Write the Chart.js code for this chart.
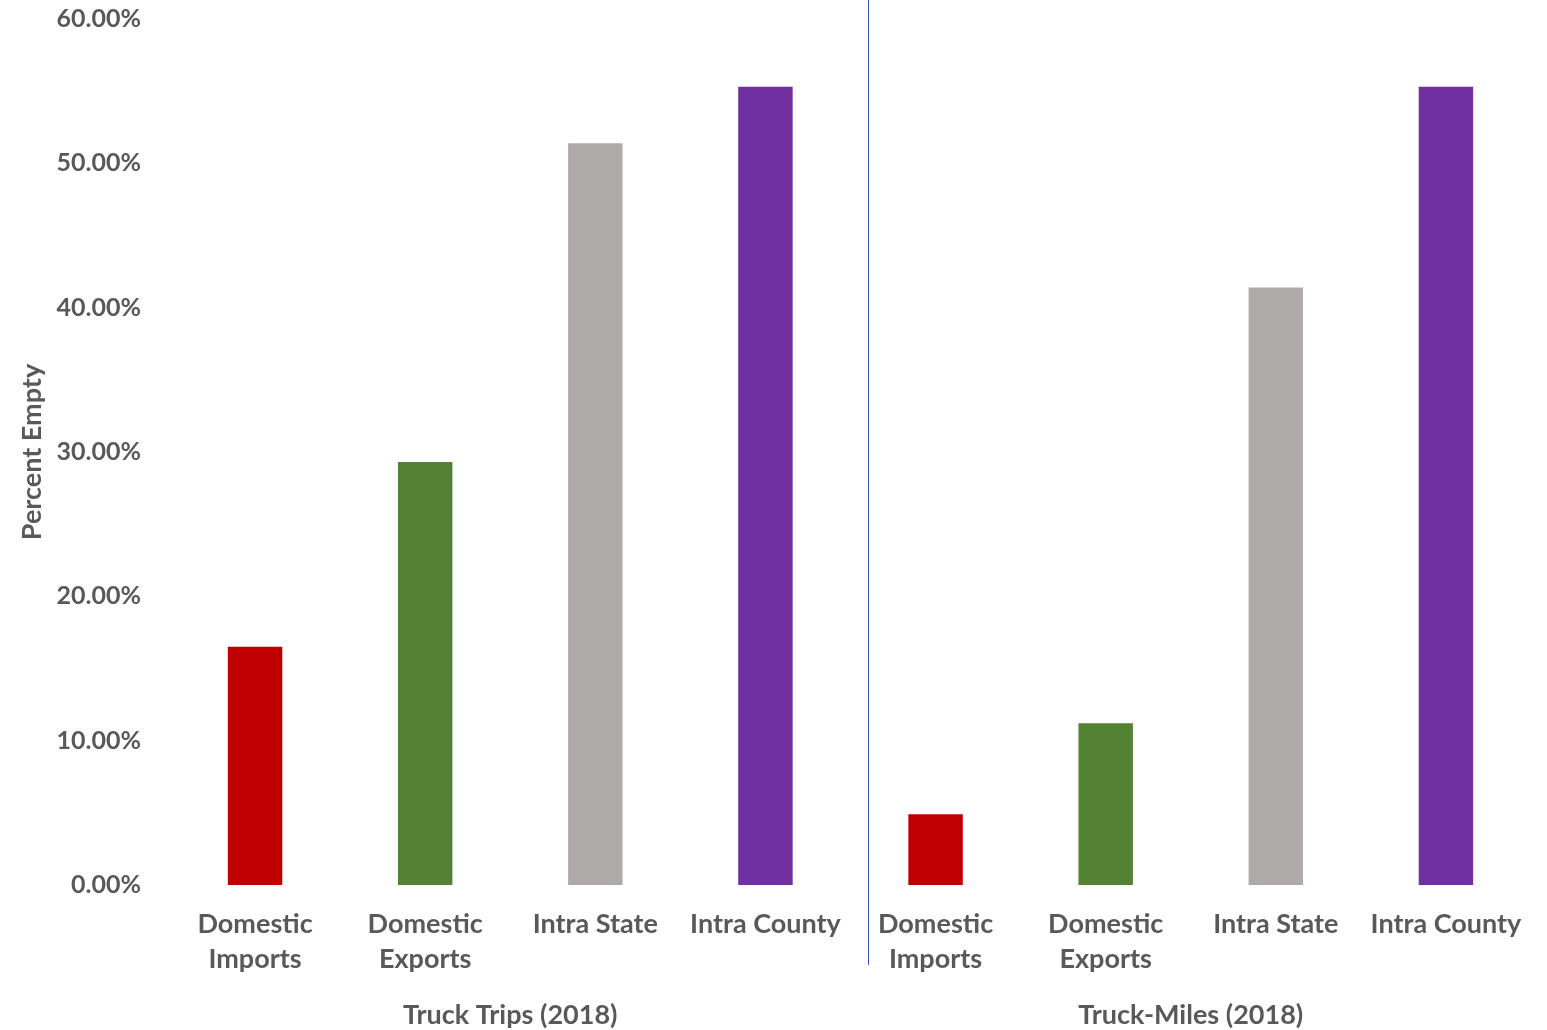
<!DOCTYPE html>
<html lang="en">
<head>
    <meta charset="UTF-8">
    <title>Percent Empty Trucks (2018)</title>
    <script src="https://cdn.jsdelivr.net/npm/chart.js"></script>
    <style>
        body {
            margin: 0;
            background: white;
        }
        #wrap {
            width: 1547px;
            height: 1030px;
        }
    </style>
</head>
<body>
    <div id="wrap"><canvas id="emptyChart"></canvas></div>

    <script>
        // categories for each bar, two groups of four
        const categories = [
            ["Domestic", "Imports"], ["Domestic", "Exports"], "Intra State", "Intra County",
            ["Domestic", "Imports"], ["Domestic", "Exports"], "Intra State", "Intra County"
        ];
        const groups = ["Truck Trips (2018)", "Truck-Miles (2018)"];
        // percent empty
        const percentEmpty = [16.5, 29.3, 51.4, 55.3, 4.9, 11.2, 41.4, 55.3];
        const barColors = ["#C00000", "#548235", "#AEAAAA", "#7030A0",
                           "#C00000", "#548235", "#AEAAAA", "#7030A0"];
        const yTicks = [0, 10, 20, 30, 40, 50, 60];

        const textColor = "#595959";
        const fontFamily = "Lato, 'Open Sans', sans-serif";

        // group captions under the categories plus the separator line
        const groupLabels = {
            id: "groupLabels",
            afterDraw(chart) {
                const ctx = chart.ctx;
                const x = chart.scales.x;
                ctx.save();
                const sepX = Math.round(x.getPixelForValue(3.6)) + 0.5;
                ctx.strokeStyle = "#2F52A8";
                ctx.lineWidth = 1;
                ctx.beginPath();
                ctx.moveTo(sepX, 0);
                ctx.lineTo(sepX, 965);
                ctx.stroke();

                ctx.fillStyle = textColor;
                ctx.font = "bold 27px " + fontFamily;
                ctx.textAlign = "center";
                ctx.textBaseline = "middle";
                groups.forEach((g, i) => {
                    const cx = (x.getPixelForValue(i * 4) + x.getPixelForValue(i * 4 + 3)) / 2;
                    ctx.fillText(g, cx, 1015);
                });
                ctx.restore();
            }
        };

        const ctx = document.getElementById("emptyChart").getContext("2d");
        new Chart(ctx, {
            type: "bar",
            data: {
                labels: categories,
                datasets: [{
                    data: percentEmpty,
                    backgroundColor: barColors,
                    categoryPercentage: 1,
                    barPercentage: 0.32
                }]
            },
            options: {
                responsive: true,
                maintainAspectRatio: false,
                animation: false,
                layout: { padding: { top: 0, right: 16 } },
                plugins: {
                    legend: { display: false },
                    tooltip: { enabled: false }
                },
                scales: {
                    x: {
                        grid: { display: false },
                        border: { display: false },
                        ticks: {
                            color: textColor,
                            font: { family: fontFamily, size: 27, weight: "bold", lineHeight: 1.3 },
                            padding: 14,
                            maxRotation: 0,
                            autoSkip: false
                        },
                        afterFit(scale) { scale.height = 145; }
                    },
                    y: {
                        min: 0,
                        max: 60,
                        afterBuildTicks(scale) {
                            scale.ticks = yTicks.map(v => ({ value: v }));
                        },
                        grid: { display: false },
                        border: { display: false },
                        ticks: {
                            color: textColor,
                            font: { family: fontFamily, size: 25, weight: "bold", lineHeight: 0.4 },
                            padding: 21,
                            callback: v => v.toFixed(2) + "%"
                        },
                        title: {
                            display: true,
                            text: "Percent Empty",
                            color: textColor,
                            font: { family: fontFamily, size: 27, weight: "bold" },
                            padding: { top: 16, bottom: 0 }
                        },
                        afterFit(scale) {
                            scale.width = 170;
                            scale.paddingTop = 19;
                        }
                    }
                }
            },
            plugins: [groupLabels]
        });
    </script>
</body>
</html>
